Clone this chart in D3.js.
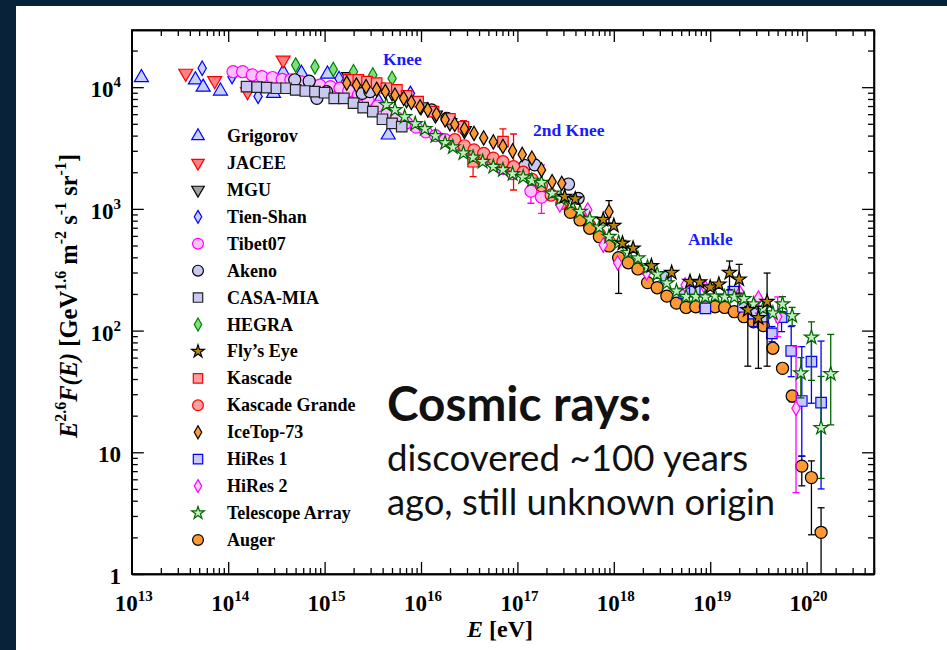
<!DOCTYPE html>
<meta charset="utf-8">
<style>
body { margin: 0; background: #08223a; }
svg text { font-family: "Liberation Serif", "Times New Roman", serif; font-weight: bold; fill: #000; }
text.note { font-family: Lato, "Open Sans", sans-serif; fill: #111; }
text.mark { fill: #1a1aff; }
</style>
<body>
<script src="https://d3js.org/d3.v7.min.js"></script>
<script>

// every point is [log10(E / eV), E^2.6 F(E)]
var grigorov = [[13.10,1.2e4],[13.66,1.15e4],[13.74,1.0e4],[13.92,9.3e3],[14.47,8.9e3],[14.57,1.32e4],[14.76,1.3e4],[15.03,1.28e4],[15.56,7.6e3],[15.66,4.05e3]];
var jacee = [[13.56,1.3e4],[13.86,1.13e4],[14.20,9.2e3],[14.57,1.67e4]];
var mgu = [[15.25,1.22e4],[15.40,1.12e4],[15.55,1.0e4],[15.70,9.0e3],[15.85,7.9e3],[16.00,6.9e3],[16.15,5.9e3],[16.30,5.1e3],[16.45,4.4e3]];
var tienShan = [[13.73,1.43e4],[14.04,1.22e4],[14.31,8.4e3],[15.15,1.18e4],[15.89,8.9e3]];
var tibet07 = [[14.05,1.34e4],[14.15,1.34e4],[14.25,1.26e4],[14.35,1.22e4],[14.46,1.2e4],[14.56,1.16e4],[14.65,1.15e4],[14.75,1.11e4],[14.85,1.08e4],[14.95,1.04e4],[15.06,1.01e4],[15.16,9.8e3],[15.25,9.3e3],[15.35,8.6e3],[15.45,7.9e3],[15.55,7.0e3],[15.65,6.2e3],[15.75,5.6e3],[15.85,5.1e3],[15.95,4.7e3],[16.05,4.3e3],[16.15,4.0e3],[16.25,3.7e3],[16.35,3.4e3],[16.45,3.15e3],[16.55,2.9e3],[16.65,2.65e3],[16.75,2.4e3],[16.85,2.15e3],[16.95,1.95e3],[17.14,1.4e3],[17.25,1.25e3]];
var akeno = [[14.69,1.15e4],[14.84,1.12e4],[14.92,8.1e3],[15.02,9.2e3],[15.39,8.9e3],[15.47,9.2e3],[16.11,6.5e3],[16.27,5.55e3],[17.08,2.27e3],[17.18,2.3e3],[17.53,1.6e3],[17.63,1.22e3]];
var casaMia = [[14.19,1.01e4],[14.30,1.0e4],[14.40,9.9e3],[14.50,9.8e3],[14.60,9.8e3],[14.70,9.5e3],[14.80,9.3e3],[14.90,9.2e3],[15.00,9.0e3],[15.10,8.1e3],[15.20,8.1e3],[15.30,7.4e3],[15.40,6.8e3],[15.50,6.3e3],[15.60,5.45e3],[15.70,5.05e3],[15.80,4.74e3]];
var hegra = [[14.70,1.52e4],[14.90,1.47e4],[15.09,1.4e4],[15.30,1.34e4],[15.50,1.26e4],[15.70,1.18e4]];
var flysEye = [[17.49,1260],[17.60,1205],[17.89,815],[18.00,728],[18.09,521],[18.20,474],[18.39,340],[18.60,299],[18.79,252],[18.89,250],[19.00,227],[19.09,240],[19.20,299],[19.30,264],[19.39,148],[19.50,127],[19.59,173]];
var kascade = [[15.25,1.15e4],[15.35,1.15e4],[15.44,1.11e4],[15.54,1.08e4],[15.64,9.8e3],[15.75,9.5e3],[15.85,8.5e3],[15.97,7.6e3],[16.13,6.3e3],[16.30,5.5e3],[16.44,4.73e3],[16.54,2.44e3],[16.85,3.57e3]];
var kascadeGrande = [[16.35,3.7e3],[16.45,3.3e3],[16.55,3.05e3],[16.65,2.86e3],[16.75,2.61e3],[16.85,2.44e3],[16.96,2.22e3],[17.06,2.0e3],[17.15,1.75e3],[17.25,1.55e3],[17.35,1.3e3],[17.46,1.11e3],[17.55,970],[17.65,840],[17.75,730],[17.85,620],[17.95,540]];
var iceTop73 = [[15.23,1.08e4],[15.33,1.04e4],[15.43,1.01e4],[15.54,9.6e3],[15.63,9.2e3],[15.73,8.6e3],[15.82,8.1e3],[15.90,7.5e3],[15.99,6.9e3],[16.07,6.5e3],[16.16,6.0e3],[16.25,5.4e3],[16.35,4.94e3],[16.45,4.54e3],[16.55,4.17e3],[16.65,3.83e3],[16.75,3.55e3],[16.85,3.26e3],[16.95,2.99e3],[17.05,2.8e3],[17.15,2.61e3],[17.25,2.09e3],[17.36,1.67e3],[17.46,1.62e3],[17.95,948]];
var hiRes1 = [[18.54,277],[18.73,202],[18.84,209],[18.95,152],[19.24,209],[19.34,157],[19.45,138],[19.55,130],[19.64,95],[19.74,129],[19.84,68],[19.95,26.4],[20.05,55.5],[20.15,25.6]];
var hiRes2 = [[17.44,1080],[17.73,980],[17.89,505],[18.04,360],[18.34,298],[18.74,237],[18.95,224],[19.31,204],[19.50,185],[19.70,130],[19.89,23]];
var telescopeArray = [[15.64,7140],[15.73,6510],[15.83,5690],[15.94,4990],[16.04,4540],[16.15,3970],[16.25,3480],[16.33,3210],[16.44,2870],[16.54,2650],[16.64,2440],[16.75,2220],[16.85,2090],[16.95,1940],[17.06,1820],[17.15,1710],[17.25,1640],[17.36,1340],[17.45,1220],[17.56,1110],[17.65,948],[17.75,822],[17.85,706],[17.95,591],[18.05,527],[18.15,436],[18.25,393],[18.35,331],[18.45,290],[18.55,245],[18.65,211],[18.75,190],[18.85,190],[18.95,188],[19.05,192],[19.15,188],[19.25,188],[19.35,182],[19.45,165],[19.55,152],[19.65,139],[19.75,165],[19.85,132],[19.94,44.6],[20.05,88],[20.15,15.9],[20.25,44]];
var auger = [[17.55,937],[17.65,811],[17.75,693],[17.85,591],[17.95,496],[18.05,397],[18.15,361],[18.25,321],[18.35,248],[18.45,225],[18.55,192],[18.65,168],[18.75,155],[18.85,157],[18.95,157],[19.05,157],[19.15,155],[19.25,143],[19.35,130],[19.45,118],[19.55,110],[19.65,71.6],[19.75,49],[19.85,29],[19.95,7.7],[20.05,6.2],[20.15,2.2]];

// error bars: [log10(E), low, high]
var kascadeErr = [[16.44,4.2e3,5.3e3],[16.54,1840,3166],[16.85,3105,4537]];
var kascadeGrandeErr = [[16.96,1430,4125]];
var tibet07Err = [[17.14,1112,1522],[17.25,920,2296]];
var iceTop73Err = [[17.95,762,1167]];
var flysEyeErr = [[19.20,216,373],[19.30,203,350],[19.39,51,158],[19.50,49,158],[19.59,51,297]];
var hiRes1Err = [[19.45,108,143],[19.64,81,108],[19.74,98,143],[19.84,41.8,108],[19.95,9.3,73.8],[20.05,25.3,82],[20.15,5.0,82]];
var hiRes2Err = [[19.50,139,194],[19.70,89,189],[19.89,4.66,73.7]];
var telescopeArrayErr = [[19.75,140,190],[19.85,110,155],[19.94,28,60],[20.05,39,118],[20.15,6.1,42],[20.25,16.8,93]];
var augerErr = [[18.05,202,420],[19.85,26,32],[19.95,5.3,9.3],[20.05,2.1,8.5],[20.15,1.0,3.5]];

var legendNames = ["Grigorov","JACEE","MGU","Tien-Shan","Tibet07","Akeno","CASA-MIA","HEGRA",
  "Fly\u2019s Eye","Kascade","Kascade Grande","IceTop-73","HiRes 1","HiRes 2","Telescope Array","Auger"];

var xDecades = [13,14,15,16,17,18,19,20];
var yDecades = [0,1,2,3,4];
var notes = [["Knee",383,65],["2nd Knee",533,136],["Ankle",688,245]];
var textLines = ["Cosmic rays:","discovered ~100 years","ago, still unknown origin"];

// look of each experiment
var look = {
  "Grigorov":        {shape:"triUp",   stroke:"#0000ff", fill:"#c8d0ff", data:grigorov},
  "JACEE":           {shape:"triDown", stroke:"#ff0000", fill:"#ff8080", data:jacee},
  "MGU":             {shape:"triDown", stroke:"#000000", fill:"#a0a0a0", data:mgu},
  "Tien-Shan":       {shape:"diamond", stroke:"#0000ff", fill:"#c8d0ff", data:tienShan},
  "Tibet07":         {shape:"circle",  stroke:"#ff00ff", fill:"#ffc0ff", data:tibet07, err:tibet07Err},
  "Akeno":           {shape:"circle",  stroke:"#000000", fill:"#c8c8f0", data:akeno},
  "CASA-MIA":        {shape:"square",  stroke:"#222222", fill:"#c8c8f0", data:casaMia},
  "HEGRA":           {shape:"diamond", stroke:"#008000", fill:"#80e080", data:hegra},
  "Fly\u2019s Eye":  {shape:"star",    stroke:"#000000", fill:"#b8860b", data:flysEye, err:flysEyeErr},
  "Kascade":         {shape:"square",  stroke:"#ff0000", fill:"#ffa0a0", data:kascade, err:kascadeErr},
  "Kascade Grande":  {shape:"circle",  stroke:"#ff0000", fill:"#ffa0a0", data:kascadeGrande, err:kascadeGrandeErr},
  "IceTop-73":       {shape:"diamond", stroke:"#000000", fill:"#ff9933", data:iceTop73, err:iceTop73Err},
  "HiRes 1":         {shape:"square",  stroke:"#0000ff", fill:"#c8c8ff", data:hiRes1, err:hiRes1Err},
  "HiRes 2":         {shape:"diamond", stroke:"#ff00ff", fill:"#ffd0ff", data:hiRes2, err:hiRes2Err},
  "Telescope Array": {shape:"star",    stroke:"#006400", fill:"#c0f0c0", data:telescopeArray, err:telescopeArrayErr},
  "Auger":           {shape:"circle",  stroke:"#000000", fill:"#ff9933", data:auger, err:augerErr}
};
var drawOrder = ["Grigorov","JACEE","MGU","Tien-Shan","Tibet07","Akeno","CASA-MIA","HEGRA","Kascade",
  "Kascade Grande","Auger","HiRes 1","HiRes 2","Telescope Array","Fly\u2019s Eye","IceTop-73"];

var shapes = {
  triUp:   {type:d3.symbolTriangle, size:85,  rot:0},
  triDown: {type:d3.symbolTriangle, size:85,  rot:180},
  diamond: {type:d3.symbolDiamond,  size:60,  rot:0},
  circle:  {type:d3.symbolCircle,   size:115, rot:0},
  square:  {type:d3.symbolSquare,   size:110, rot:0},
  star:    {type:d3.symbolStar,     size:62,  rot:0}
};

var W = 947, H = 650;
var svg = d3.select("body").append("svg").attr("width", W).attr("height", H);
svg.append("rect").attr("width", W).attr("height", H).attr("fill", "#08223a");
svg.append("rect").attr("x", 16).attr("y", 6).attr("width", W - 16).attr("height", H - 6).attr("fill", "#fff");

var x = d3.scaleLog().domain([1e13, 5e20]).range([131.8, 874]);
var y = d3.scaleLog().domain([1, 2.95e4]).range([574, 30]);
var X = function(l) { return x(Math.pow(10, l)); };

svg.append("clipPath").attr("id", "plot")
  .append("rect").attr("x", 131.8).attr("y", 30).attr("width", 874 - 131.8).attr("height", 544);

// ticks, major and minor, on all four sides, pointing inwards
function minors(lo, hi, max) {
  var v = [];
  for (var k = lo; k <= hi; k++) for (var m = 2; m <= 9; m++) if (m * Math.pow(10, k) <= max) v.push(m * Math.pow(10, k));
  return v;
}
var xMaj = xDecades.map(function(k) { return Math.pow(10, k); });
var yMaj = yDecades.map(function(k) { return Math.pow(10, k); });
var xMin = minors(13, 20, 5e20), yMin = minors(0, 4, 2.95e4);

function addAxis(axis, tr) {
  var g = svg.append("g").attr("transform", tr).call(axis);
  g.selectAll("text").remove();
  g.selectAll("line, path").attr("stroke", "#000").attr("stroke-width", 1.3);
  return g;
}
[[xMaj, 12], [xMin, 6]].forEach(function(p) {
  addAxis(d3.axisBottom(x).tickValues(p[0]).tickSizeInner(-p[1]).tickSizeOuter(0), "translate(0,574)");
  addAxis(d3.axisTop(x).tickValues(p[0]).tickSizeInner(-p[1]).tickSizeOuter(0), "translate(0,30)");
});
[[yMaj, 12], [yMin, 6]].forEach(function(p) {
  addAxis(d3.axisLeft(y).tickValues(p[0]).tickSizeInner(-p[1]).tickSizeOuter(0), "translate(131.8,0)");
  addAxis(d3.axisRight(y).tickValues(p[0]).tickSizeInner(-p[1]).tickSizeOuter(0), "translate(874,0)");
});
svg.append("rect").attr("x", 131.8).attr("y", 30).attr("width", 874 - 131.8).attr("height", 544)
  .attr("fill", "none").attr("stroke", "#000").attr("stroke-width", 1.6);

// rich text helper: parts are [text, kind] with kind n (normal), i (italic), s (superscript)
function rich(t, parts, small, rise) {
  var up = false;
  parts.forEach(function(p) {
    var s = t.append("tspan").text(p[0]);
    if (p[1] === "s") {
      s.style("font-size", small + "px").attr("dy", up ? 0 : -rise);
      up = true;
    } else {
      if (up) s.attr("dy", rise);
      up = false;
      if (p[1] === "i") s.style("font-style", "italic");
    }
  });
}

xDecades.forEach(function(k) {
  var t = svg.append("text").attr("x", x(Math.pow(10, k)) + 2).attr("y", 611)
    .attr("text-anchor", "middle").style("font-size", "23px");
  rich(t, [["10", "n"], [String(k), "s"]], 15, 10);
});
yDecades.forEach(function(k) {
  var t = svg.append("text").attr("x", 121).attr("y", y(Math.pow(10, k)) + 10)
    .attr("text-anchor", "end").style("font-size", "23px");
  if (k === 0) t.text("1");
  else if (k === 1) t.text("10");
  else rich(t, [["10", "n"], [String(k), "s"]], 15, 10);
});

var xt = svg.append("text").attr("x", 500).attr("y", 637).attr("text-anchor", "middle").style("font-size", "24px");
rich(xt, [["E", "i"], [" [eV]", "n"]], 15, 10);

var yt = svg.append("text").attr("transform", "translate(77,296) rotate(-90)")
  .attr("text-anchor", "middle").style("font-size", "24.5px");
rich(yt, [["E", "i"], ["2.6", "s"], ["F(E)", "i"], [" [GeV", "n"], ["1.6", "s"], [" m", "n"], ["-2", "s"],
  [" s", "n"], ["-1", "s"], [" sr", "n"], ["-1", "s"], ["]", "n"]], 16, 11);

notes.forEach(function(n) {
  svg.append("text").attr("class", "mark").attr("x", n[1]).attr("y", n[2])
    .style("font-size", "17.5px").text(n[0]);
});

// data
var plot = svg.append("g").attr("clip-path", "url(#plot)");
function sym(shape, k) {
  var s = shapes[shape];
  return d3.symbol().type(s.type).size(s.size * k)();
}
drawOrder.forEach(function(name) {
  var L = look[name];
  var g = plot.append("g");
  (L.err || []).forEach(function(e) {
    var cx = X(e[0]), y0 = y(Math.max(e[1], 0.5)), y1 = y(e[2]);
    g.append("line").attr("x1", cx).attr("x2", cx).attr("y1", y0).attr("y2", y1);
    g.append("line").attr("x1", cx - 3.5).attr("x2", cx + 3.5).attr("y1", y0).attr("y2", y0);
    g.append("line").attr("x1", cx - 3.5).attr("x2", cx + 3.5).attr("y1", y1).attr("y2", y1);
  });
  g.selectAll("line").attr("stroke", L.stroke).attr("stroke-width", 1.3);
  g.selectAll("path").data(L.data).enter().append("path")
    .attr("d", sym(L.shape, 1))
    .attr("transform", function(d) { return "translate(" + X(d[0]) + "," + y(d[1]) + ") rotate(" + shapes[L.shape].rot + ")"; })
    .attr("fill", L.fill).attr("stroke", L.stroke).attr("stroke-width", 1.2);
});

// legend
var leg = svg.append("g");
legendNames.forEach(function(name, i) {
  var L = look[name], ry = 136 + 26.93 * i;
  leg.append("path").attr("d", sym(L.shape, 0.8))
    .attr("transform", "translate(198," + ry + ") rotate(" + shapes[L.shape].rot + ")")
    .attr("fill", L.fill).attr("stroke", L.stroke).attr("stroke-width", 1.2);
  leg.append("text").attr("x", 227).attr("y", ry + 6).style("font-size", "18px").text(name);
});

// big note, sized to the widths it has in the picture
var lineWidths = [265, 361, 388];
var lineY = [421, 471, 515];
textLines.forEach(function(s, i) {
  var t = svg.append("text").attr("class", "note").attr("x", 387).attr("y", lineY[i])
    .style("font-size", "36px").style("font-weight", i === 0 ? 700 : 400).text(s);
  var w = t.node().getComputedTextLength();
  t.style("font-size", (36 * lineWidths[i] / w).toFixed(1) + "px");
});

</script>
